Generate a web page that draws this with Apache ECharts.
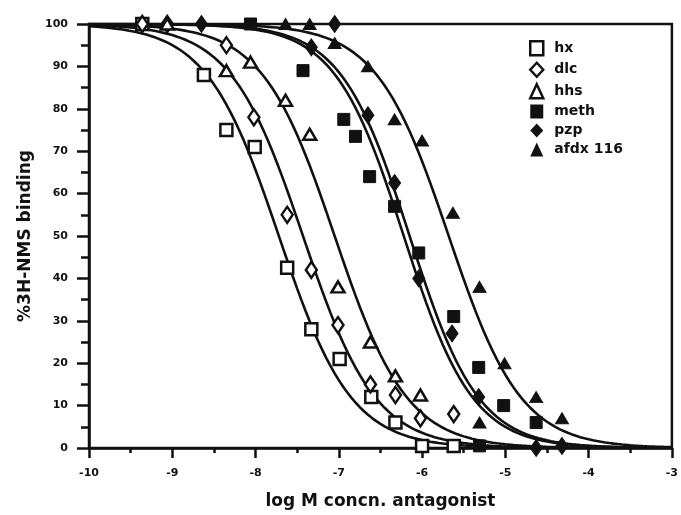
<!DOCTYPE html>
<html><head><meta charset="utf-8">
<script src="https://cdn.jsdelivr.net/npm/echarts@6/dist/echarts.min.js"></script>
<style>html,body{margin:0;padding:0;background:#fff}#c{width:681px;height:515px}</style>
</head><body><div id="c"></div>
<script>
// observed data points [log M, % 3H-NMS binding]
const hx   = [[-9.36,100],[-8.62,88],[-8.35,75],[-8.01,71],[-7.62,42.5],[-7.33,28],[-6.99,21],[-6.61,12],[-6.32,6],[-6.0,0.5],[-5.62,0.5]];
const dlc  = [[-9.36,100],[-9.06,100],[-8.35,95],[-8.02,78],[-7.62,55],[-7.33,42],[-7.01,29],[-6.62,15],[-6.32,12.5],[-6.02,7],[-5.62,8]];
const hhs  = [[-9.06,100],[-8.35,89],[-8.06,91],[-7.64,82],[-7.35,74],[-7.01,38],[-6.62,25],[-6.32,17],[-6.02,12.5]];
const meth = [[-8.06,100],[-7.43,89],[-6.94,77.5],[-6.80,73.5],[-6.63,64],[-6.33,57],[-6.04,46],[-5.62,31],[-5.32,19],[-5.02,10],[-4.63,6],[-5.31,0.5]];
const pzp  = [[-8.65,100],[-7.05,100],[-7.33,94.5],[-6.65,78.5],[-6.33,62.5],[-6.04,40],[-5.64,27],[-5.32,12],[-4.63,0],[-4.32,0.5]];
const afdx = [[-7.64,100],[-7.35,100],[-7.05,95.5],[-6.65,90],[-6.33,77.5],[-6.0,72.5],[-5.63,55.5],[-5.31,38],[-5.01,20],[-4.63,12],[-4.32,7],[-5.31,6]];

const seriesNames = ['hx','dlc','hhs','meth','pzp','afdx 116'];
// fitted competition curves: log IC50 and Hill slope per antagonist
const fitLogIC50 = [-7.72,-7.43,-7.05,-6.15,-6.22,-5.68];
const fitSlope   = [1.0,1.0,1.0,1.05,1.05,1.0];
const xTickMin = -10, xTickMax = -3;

function fitCurve(c, n) {
  const pts = [];
  for (let i = 0; i <= 140; i++) {
    const x = xTickMin + i * 0.05;
    pts.push([x, 100 / (1 + Math.pow(10, n * (x - c)))]);
  }
  return pts;
}

const dataSets = [hx, dlc, hhs, meth, pzp, afdx];
const symbols = ['rect','diamond','triangle','rect','diamond','triangle'];
const sizes = [[12,12],[11,16],[13,11],[12,12],[12,17],[13,11]];
const filled = [false,false,false,true,true,true];

const series = [];
dataSets.forEach((d, i) => {
  series.push({
    name: seriesNames[i], type: 'line', data: fitCurve(fitLogIC50[i], fitSlope[i]),
    showSymbol: false, smooth: false, silent: true,
    lineStyle: {color: '#111', width: 2.6}, itemStyle: {color: '#111'}, z: 2
  });
});
dataSets.forEach((d, i) => {
  series.push({
    name: seriesNames[i], type: 'scatter', data: d,
    symbol: symbols[i], symbolSize: sizes[i], z: 5,
    itemStyle: filled[i] ? {color: '#111', borderColor: '#111', borderWidth: 1, opacity: 1}
                         : {color: '#fff', borderColor: '#111', borderWidth: 2.5, opacity: 1}
  });
});

const chart = echarts.init(document.getElementById('c'), null, {renderer: 'canvas'});
chart.setOption({
  animation: false,
  backgroundColor: '#fff',
  grid: {left: 89, right: 4, top: 24, bottom: 58, show: true, borderColor: '#111', borderWidth: 2.5, backgroundColor: 'transparent'},
  legend: {
    data: seriesNames.map((n, i) => ({name: n, icon: symbols[i],
      itemStyle: filled[i] ? {color: '#111', borderColor: '#111', borderWidth: 0} : {color: '#fff', borderColor: '#111', borderWidth: 2.5}})),
    orient: 'vertical', left: 524, top: 35, itemGap: 5, itemWidth: 13, itemHeight: 14,
    textStyle: {color: '#111', fontWeight: 'bold', fontSize: 14, fontFamily: 'DejaVu Sans', padding: [0, 0, 0, 6]},
    selectedMode: false
  },
  xAxis: {
    type: 'value', min: xTickMin, max: xTickMax, interval: 1,
    name: 'log M concn. antagonist', nameLocation: 'middle', nameGap: 45,
    nameTextStyle: {color: '#111', fontWeight: 'bold', fontSize: 17, fontFamily: 'DejaVu Sans'},
    axisLine: {lineStyle: {color: '#111', width: 2.5}},
    axisTick: {length: 10, lineStyle: {color: '#111', width: 2.5}},
    minorTick: {show: true, splitNumber: 2, length: 5, lineStyle: {color: '#111', width: 2.5}},
    splitLine: {show: false},
    axisLabel: {color: '#111', fontWeight: 'bold', fontSize: 11, fontFamily: 'DejaVu Sans', margin: 20}
  },
  yAxis: {
    type: 'value', min: 0, max: 100, interval: 10,
    name: '%3H-NMS binding', nameLocation: 'middle', nameGap: 51, nameRotate: 90,
    nameTextStyle: {color: '#111', fontWeight: 'bold', fontSize: 17, fontFamily: 'DejaVu Sans'},
    axisLine: {lineStyle: {color: '#111', width: 2.5}},
    axisTick: {length: 12, lineStyle: {color: '#111', width: 2.5}},
    minorTick: {show: true, splitNumber: 2, length: 8, lineStyle: {color: '#111', width: 2.5}},
    splitLine: {show: false},
    axisLabel: {color: '#111', fontWeight: 'bold', fontSize: 11, fontFamily: 'DejaVu Sans', margin: 21}
  },
  series: series
});
</script></body></html>
